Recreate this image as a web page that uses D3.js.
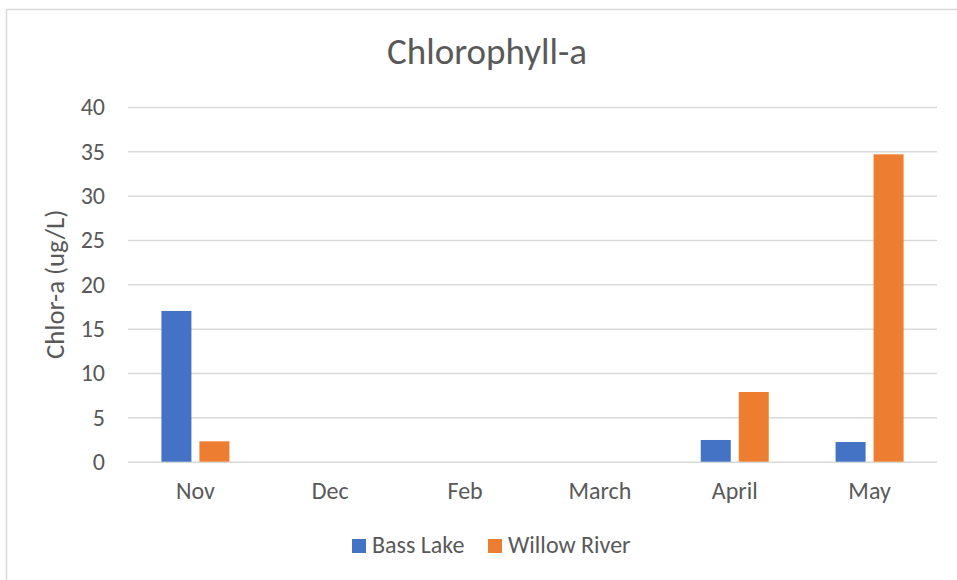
<!DOCTYPE html>
<html>
<head>
<meta charset="utf-8">
<script src="https://cdn.jsdelivr.net/npm/d3@7"></script>
<style>
  body { margin: 0; background: #fff; }
  svg { display: block; font-family: Carlito, Calibri, Lato, "Open Sans", sans-serif; }
</style>
</head>
<body>
<svg id="chart"></svg>
<script>
const months = ["Nov", "Dec", "Feb", "March", "April", "May"];
const seriesNames = ["Bass Lake", "Willow River"];
const bassLake = [17.0, null, null, null, 2.45, 2.22];
const willowRiver = [2.3, null, null, null, 7.86, 34.66];
const yTicks = [0, 5, 10, 15, 20, 25, 30, 35, 40];
const colors = ["#4472C4", "#ED7D31"];

const width = 957, height = 580;
const margin = { top: 107, right: 20, bottom: 119, left: 128 };
const innerWidth = 937 - margin.left;
const innerHeight = 461.7 - margin.top;
const fontFamily = "Carlito, Calibri, Lato, 'Open Sans', sans-serif";

const svg = d3.select("#chart")
  .attr("width", width)
  .attr("height", height);

// chart frame (only top and left edges are visible in the crop)
svg.append("line")
  .attr("x1", 6.5).attr("x2", width)
  .attr("y1", 9.5).attr("y2", 9.5)
  .attr("stroke", "#d9d9d9").attr("stroke-width", 1.5);
svg.append("line")
  .attr("x1", 6.5).attr("x2", 6.5)
  .attr("y1", 9.5).attr("y2", height)
  .attr("stroke", "#d9d9d9").attr("stroke-width", 1.5);

svg.append("text")
  .attr("x", 487)
  .attr("y", 64)
  .attr("text-anchor", "middle")
  .attr("fill", "#595959")
  .style("font-size", "37px")
  .text("Chlorophyll-a");

const g = svg.append("g")
  .attr("transform", `translate(${margin.left},${margin.top})`);

const x = d3.scaleBand()
  .domain(months)
  .range([0, innerWidth])
  .padding(0);

const y = d3.scaleLinear()
  .domain([0, 40])
  .range([innerHeight, 0]);

// gridlines
g.append("g")
  .call(d3.axisLeft(y).tickValues(yTicks).tickSize(-innerWidth).tickFormat(""))
  .call(s => s.select(".domain").remove())
  .call(s => s.selectAll("line").attr("stroke", "#d9d9d9").attr("stroke-width", 1.5));

// y tick labels
g.append("g")
  .call(d3.axisLeft(y).tickValues(yTicks).tickSize(0).tickPadding(23))
  .call(s => s.select(".domain").remove())
  .call(s => s.selectAll("text")
    .attr("fill", "#595959")
    .style("font-size", "24px")
    .style("font-family", fontFamily));

// x axis labels
g.append("g")
  .attr("transform", `translate(0,${innerHeight})`)
  .call(d3.axisBottom(x).tickSize(0).tickPadding(20))
  .call(s => s.select(".domain").remove())
  .call(s => s.selectAll("text")
    .attr("fill", "#595959")
    .style("font-size", "24px")
    .style("font-family", fontFamily));

// bars grouped per month
const barW = 30, gap = 8;
const xSub = d3.scaleBand()
  .domain(seriesNames)
  .range([0, barW * 2 + gap])
  .paddingInner(gap / (barW + gap));
const offset = (x.bandwidth() - (barW * 2 + gap)) / 2;

const series = [bassLake, willowRiver];
series.forEach((vals, si) => {
  g.append("g")
    .selectAll("rect")
    .data(months.map((m, i) => ({ m, v: vals[i] })).filter(d => d.v != null))
    .enter()
    .append("rect")
    .attr("x", d => x(d.m) + offset + xSub(seriesNames[si]))
    .attr("y", d => y(d.v))
    .attr("width", xSub.bandwidth())
    .attr("height", d => innerHeight - y(d.v))
    .attr("fill", colors[si]);
});

// y axis title
svg.append("text")
  .attr("transform", `translate(64,${margin.top + innerHeight / 2}) rotate(-90)`)
  .attr("text-anchor", "middle")
  .attr("fill", "#595959")
  .style("font-size", "26.7px")
  .text("Chlor-a (ug/L)");

// legend
const legend = svg.append("g");
const legendX = [352, 488];
seriesNames.forEach((name, i) => {
  legend.append("rect")
    .attr("x", legendX[i]).attr("y", 539)
    .attr("width", 14).attr("height", 14)
    .attr("fill", colors[i]);
  legend.append("text")
    .attr("x", legendX[i] + 20).attr("y", 553)
    .attr("fill", "#595959")
    .style("font-size", "24px")
    .text(name);
});
</script>
</body>
</html>
